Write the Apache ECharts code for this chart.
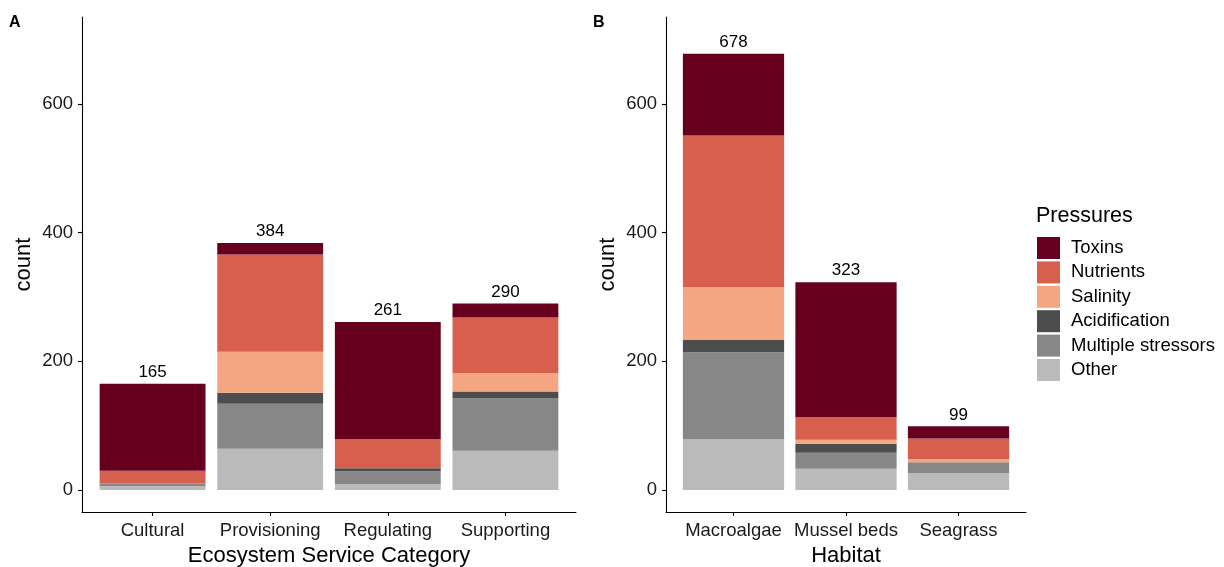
<!DOCTYPE html>
<html>
<head>
<meta charset="utf-8">
<script src="https://cdn.jsdelivr.net/npm/echarts@6/dist/echarts.min.js"></script>
<style>
  html, body { margin: 0; padding: 0; background: #fff; }
  #chart { width: 1224px; height: 567px; }
</style>
</head>
<body>
<div id="chart"></div>
<script>
// panel A: ecosystem service categories
const categoriesA = ['Cultural', 'Provisioning', 'Regulating', 'Supporting']
const otherA = [6, 64, 9, 61]
const multipleA = [4, 70, 20, 82]
const acidA = [0, 17, 5, 10]
const salinityA = [0, 64, 0, 29]
const nutrientsA = [20, 151, 45, 86]
const toxinsA = [135, 18, 182, 22]

// panel B: habitats
const categoriesB = ['Macroalgae', 'Mussel beds', 'Seagrass']
const otherB = [79, 33, 26]
const multipleB = [135, 25, 17]
const acidB = [19, 14, 0]
const salinityB = [82, 6, 5]
const nutrientsB = [236, 35, 32]
const toxinsB = [127, 210, 19]

const yTicks = [0, 200, 400, 600]
const pressures = ['Toxins', 'Nutrients', 'Salinity', 'Acidification', 'Multiple stressors', 'Other']
const colors = {
  'Toxins': '#67001F',
  'Nutrients': '#D6604D',
  'Salinity': '#F4A582',
  'Acidification': '#4D4D4D',
  'Multiple stressors': '#878787',
  'Other': '#BABABA'
}

const FONT = '"Liberation Sans", Arial, sans-serif'
const YMIN = -34.2
const YMAX = 735.3

const sum = (lists, i) => lists.reduce((s, l) => s + l[i], 0)

// axis frame that spans the full (expanded) panel width
const frameX = (name) => ({
  type: 'value', min: 0, max: 1,
  axisLine: { show: true, onZero: false, lineStyle: { color: '#000', width: 1.1 } },
  axisTick: { show: false }, axisLabel: { show: false }, splitLine: { show: false },
  name, nameLocation: 'middle', nameGap: 33,
  nameTextStyle: { fontFamily: FONT, fontSize: 22, color: '#000' }
})

const frameY = () => ({
  type: 'value', min: YMIN, max: YMAX,
  axisLine: { show: true, onZero: false, lineStyle: { color: '#000', width: 1.1 } },
  axisTick: { show: true, length: 4, customValues: yTicks, lineStyle: { color: '#000', width: 1.1 } },
  axisLabel: { show: true, customValues: yTicks, margin: 9, fontFamily: FONT, fontSize: 18.5, color: '#1a1a1a' },
  splitLine: { show: false },
  name: 'count', nameLocation: 'middle', nameGap: 47,
  nameTextStyle: { fontFamily: FONT, fontSize: 22, color: '#000' }
})

const catX = (cats) => ({
  type: 'category', data: cats,
  axisLine: { show: false, onZero: false },
  axisTick: { show: true, alignWithLabel: true, length: 4, lineStyle: { color: '#000', width: 1.1 } },
  axisLabel: { interval: 0, margin: 9, fontFamily: FONT, fontSize: 18.5, color: '#1a1a1a' },
  splitLine: { show: false }
})

const hiddenY = () => ({ type: 'value', min: YMIN, max: YMAX, show: false, splitLine: { show: false } })

function panelSeries (axisIdx, stack, lists) {
  const [other, multiple, acid, salinity, nutrients, toxins] = lists
  const byName = {
    'Other': other, 'Multiple stressors': multiple, 'Acidification': acid,
    'Salinity': salinity, 'Nutrients': nutrients, 'Toxins': toxins
  }
  // stack from bottom (Other) to top (Toxins)
  return pressures.slice().reverse().map(name => ({
    name,
    type: 'bar',
    stack,
    xAxisIndex: axisIdx,
    yAxisIndex: axisIdx,
    barWidth: '90%',
    itemStyle: { color: colors[name] },
    emphasis: { disabled: true },
    data: byName[name],
    label: name === 'Toxins'
      ? {
          show: true, position: 'top', distance: 3,
          fontFamily: FONT, fontSize: 17, color: '#000',
          formatter: p => String(sum(lists, p.dataIndex))
        }
      : { show: false }
  }))
}

const unitA = 494 / 4.2
const unitB = 360 / 3.2
const gridBase = { top: 17, height: 495, outerBoundsMode: 'none', containLabel: false }

const option = {
  animation: false,
  backgroundColor: '#fff',
  grid: [
    { ...gridBase, left: 82, width: 494 },
    { ...gridBase, left: 82 + 0.1 * unitA, width: 4 * unitA },
    { ...gridBase, left: 666, width: 360 },
    { ...gridBase, left: 666 + 0.1 * unitB, width: 3 * unitB }
  ],
  xAxis: [
    Object.assign(frameX('Ecosystem Service Category'), { gridIndex: 0 }),
    Object.assign(catX(categoriesA), { gridIndex: 1 }),
    Object.assign(frameX('Habitat'), { gridIndex: 2 }),
    Object.assign(catX(categoriesB), { gridIndex: 3 })
  ],
  yAxis: [
    Object.assign(frameY(), { gridIndex: 0 }),
    Object.assign(hiddenY(), { gridIndex: 1 }),
    Object.assign(frameY(), { gridIndex: 2 }),
    Object.assign(hiddenY(), { gridIndex: 3 })
  ],
  legend: {
    data: pressures,
    orient: 'vertical',
    left: 1032,
    top: 232,
    icon: 'rect',
    itemWidth: 23,
    itemHeight: 22,
    itemGap: 2.4,
    selectedMode: false,
    textStyle: { fontFamily: FONT, fontSize: 18.5, color: '#000', padding: [0, 0, 0, 6] }
  },
  title: {
    text: 'Pressures',
    left: 1031,
    top: 200,
    textStyle: { fontFamily: FONT, fontSize: 21.5, fontWeight: 'normal', color: '#000' }
  },
  graphic: [
    { type: 'text', left: 9, top: 15, style: { text: 'A', fontFamily: FONT, fontSize: 16, fontWeight: 'bold', fill: '#000' } },
    { type: 'text', left: 593, top: 15, style: { text: 'B', fontFamily: FONT, fontSize: 16, fontWeight: 'bold', fill: '#000' } }
  ],
  series: [
    ...panelSeries(1, 'A', [otherA, multipleA, acidA, salinityA, nutrientsA, toxinsA]),
    ...panelSeries(3, 'B', [otherB, multipleB, acidB, salinityB, nutrientsB, toxinsB])
  ]
}

const chart = echarts.init(document.getElementById('chart'))
chart.setOption(option)
</script>
</body>
</html>
